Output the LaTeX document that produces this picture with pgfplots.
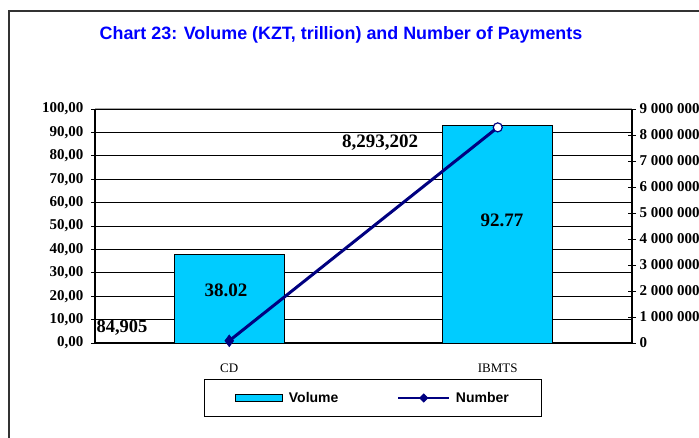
\documentclass[border=0pt]{standalone}
\usepackage{pgfplots}
\pgfplotsset{compat=1.18}
\usepackage{fontspec}
\setmainfont{Liberation Serif}
\newfontfamily\arial{Liberation Sans}
\definecolor{barcyan}{RGB}{0,204,255}
\definecolor{navyline}{RGB}{0,0,128}
\definecolor{titleblue}{RGB}{0,0,255}
\begin{document}
\begin{tikzpicture}[x=1pt,y=1pt]
\useasboundingbox (0,0) rectangle (699,437);
\draw[line width=2pt, black!80] (9,-5) -- (9,426) -- (710,426);
\node[font=\arial\bfseries\fontsize{17.9}{20}\selectfont, text=titleblue] at (341,402) {Chart 23: Volume (KZT, trillion) and Number of Payments};
\begin{axis}[
  at={(95pt,94pt)}, anchor=south west, scale only axis,
  width=537pt, height=234pt,
  xmin=-0.5, xmax=1.5, ymin=0, ymax=100,
  axis x line*=bottom, axis y line*=left,
  axis line style={black, line width=1.2pt},
  xtick={0,1}, xticklabels={CD,IBMTS},
  major x tick style={draw=none},
  extra x ticks={0.5}, extra x tick labels={},
  extra x tick style={major tick length=7pt, tick align=outside, tick style={draw=black, line width=0.8pt}},
  xticklabel style={font=\fontsize{13}{15}\selectfont, yshift=-13pt},
  ytick={0,10,...,100},
  tick align=center, major tick length=8pt,
  y tick style={black, line width=0.8pt},
  ymajorgrids, grid style={black, line width=0.7pt},
  yticklabel style={font=\bfseries\fontsize{15}{17}\selectfont, xshift=-4pt,
    /pgf/number format/.cd, fixed, fixed zerofill, precision=2, use comma, assume math mode=true},
]
\addplot[ybar, bar width=110pt, fill=barcyan, draw=black, line width=1pt] coordinates {(0,38.02) (1,92.77)};
\draw[gray!70, line width=1pt] (rel axis cs:0,1) -- (rel axis cs:1,1);
\end{axis}
\begin{axis}[
  at={(95pt,94pt)}, anchor=south west, scale only axis,
  width=537pt, height=234pt,
  xmin=-0.5, xmax=1.5, ymin=0, ymax=9000000,
  axis x line=none, axis y line*=right,
  axis line style={black, line width=1.2pt},
  ytick={0,1000000,...,9000000}, scaled y ticks=false,
  tick align=center, major tick length=8pt,
  y tick style={black, line width=0.8pt},
  yticklabel style={font=\bfseries\fontsize{15}{17}\selectfont, xshift=0pt,
    /pgf/number format/.cd, fixed, 1000 sep={\ }, assume math mode=true},
  legend columns=2,
  legend style={at={(0.5175,-0.235)}, anchor=center, draw=black, line width=0.8pt,
    font=\arial\bfseries\fontsize{14}{16}\selectfont,
    inner xsep=31pt, inner ysep=10.5pt,
    /tikz/every even column/.append style={column sep=57pt},
    /tikz/every odd column/.append style={column sep=4pt}},
]
\addlegendimage{legend image code/.code={\draw[fill=barcyan, draw=black, line width=1pt] (0pt,-3.5pt) rectangle (47pt,3.5pt);}}
\addlegendentry{Volume}
\addlegendimage{legend image code/.code={\draw[navyline, line width=1.5pt] (0pt,0pt) -- (51pt,0pt); \fill[navyline] (25.5pt,0pt) +(0,4pt) -- +(4pt,0) -- +(0,-4pt) -- +(-4pt,0) -- cycle;}}
\addlegendentry{Number}
\addplot[navyline, line width=3pt, forget plot] coordinates {(0,84905) (1,8293202)};
\addplot[only marks, mark=diamond*, mark size=6pt, navyline, forget plot] coordinates {(0,84905)};
\addplot[only marks, mark=*, mark size=4.5pt, mark options={fill=white, draw=navyline, line width=1.2pt}, forget plot] coordinates {(1,8293202)};
\end{axis}
\node[font=\bfseries\fontsize{19}{22}\selectfont] at (226,147) {38.02};
\node[font=\bfseries\fontsize{19}{22}\selectfont] at (502,217) {92.77};
\node[font=\bfseries\fontsize{18.5}{21}\selectfont] at (122,109) {84,905};
\node[font=\bfseries\fontsize{19}{22}\selectfont] at (380,294) {8,293,202};
\end{tikzpicture}
\end{document}
